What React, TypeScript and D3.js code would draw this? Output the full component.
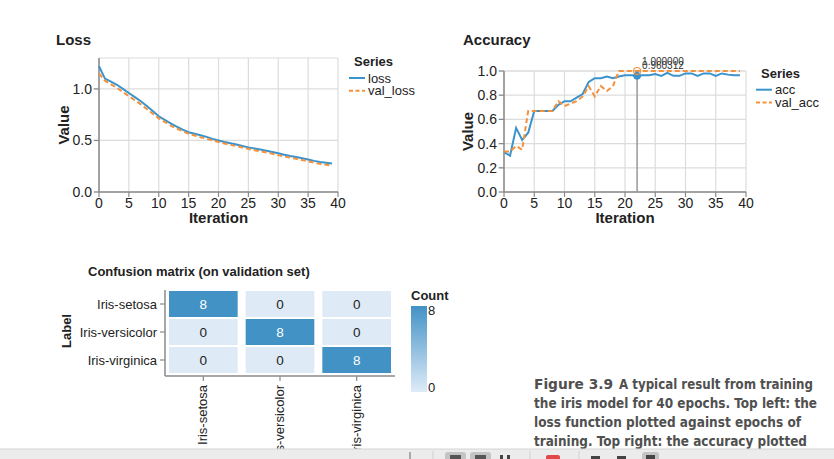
import React from 'react';
import * as d3 from 'd3';

// ---------- data ----------
const lossValues = [1.22, 1.1, 1.07, 1.04, 1.0, 0.96, 0.92, 0.88, 0.835, 0.785, 0.735, 0.7, 0.665, 0.635, 0.605, 0.58, 0.565, 0.55, 0.535, 0.515, 0.5, 0.485, 0.473, 0.46, 0.447, 0.433, 0.422, 0.412, 0.4, 0.388, 0.375, 0.362, 0.35, 0.34, 0.328, 0.315, 0.302, 0.292, 0.284, 0.276];
const valLossValues = [1.15, 1.08, 1.045, 1.01, 0.97, 0.93, 0.89, 0.85, 0.805, 0.76, 0.715, 0.68, 0.645, 0.615, 0.59, 0.565, 0.548, 0.532, 0.517, 0.5, 0.485, 0.47, 0.458, 0.445, 0.432, 0.418, 0.406, 0.395, 0.383, 0.372, 0.358, 0.345, 0.333, 0.322, 0.31, 0.297, 0.284, 0.273, 0.264, 0.255];
const accValues = [0.33, 0.3, 0.53, 0.43, 0.49, 0.67, 0.67, 0.67, 0.67, 0.72, 0.75, 0.75, 0.78, 0.81, 0.91, 0.94, 0.94, 0.955, 0.94, 0.955, 0.965, 0.965, 0.96, 0.965, 0.965, 0.975, 0.96, 0.985, 0.96, 0.96, 0.98, 0.98, 0.96, 0.98, 0.98, 0.96, 0.98, 0.97, 0.965, 0.965];
const valAccValues = [0.335, 0.335, 0.38, 0.35, 0.67, 0.67, 0.67, 0.67, 0.67, 0.75, 0.71, 0.73, 0.75, 0.79, 0.875, 0.79, 0.875, 0.835, 0.875, 1.0, 1.0, 1.0, 1.0, 1.0, 1.0, 1.0, 1.0, 1.0, 1.0, 1.0, 1.0, 1.0, 1.0, 1.0, 1.0, 1.0, 1.0, 1.0, 1.0, 1.0];
const xTicks = [0, 5, 10, 15, 20, 25, 30, 35, 40];
const lossYTicks = [0, 0.5, 1.0];
const accYTicks = [0, 0.2, 0.4, 0.6, 0.8, 1.0];
const lossSeries = ['loss', 'val_loss'];
const accSeries = ['acc', 'val_acc'];
const hoverIteration = 22;
const hoverLabels = ['1.000000', '0.960312'];
const classLabels = ['Iris-setosa', 'Iris-versicolor', 'Iris-virginica'];
const confusion = [
  [8, 0, 0],
  [0, 8, 0],
  [0, 0, 8],
];
const countTicks = [0, 8];
const captionLines = [
  'the iris model for 40 epochs. Top left: the',
  'loss function plotted against epochs of',
  'training. Top right: the accuracy plotted',
];

// ---------- style ----------
const FONT = "'Liberation Sans', Arial, Helvetica, sans-serif";
const BLUE = '#3b93cc';
const ORANGE = '#f5913a';
const GRID = '#dcdcdc';
const AXIS = '#8a8a8a';
const TEXT = '#222';

type LineChartProps = {
  title: string;
  left: number; right: number; top: number; bottom: number;
  yMax: number; yTicks: number[]; yFmt: (v: number) => string;
  series: number[][]; names: string[];
  legendX: number; legendY: number;
  titleX: number; titleY: number; valueX: number;
  children?: (x: d3.ScaleLinear<number, number>, y: d3.ScaleLinear<number, number>) => React.ReactNode;
};

function LineChart(p: LineChartProps) {
  const x = d3.scaleLinear().domain([0, 40]).range([p.left, p.right]);
  const y = d3.scaleLinear().domain([0, p.yMax]).range([p.bottom, p.top]);
  const line = d3.line<number>().x((_, i) => x(i)).y((d) => y(d));
  const colors = [BLUE, ORANGE];
  return (
    <g fontFamily={FONT}>
      <text x={p.titleX} y={p.titleY} fontSize={15} fontWeight="bold" fill={TEXT}>{p.title}</text>
      {/* grid */}
      {xTicks.map((t) => (
        <line key={'gx' + t} x1={x(t)} x2={x(t)} y1={p.top} y2={p.bottom} stroke={GRID} strokeWidth={1.2} />
      ))}
      {yTicks(p).map((t) => (
        <line key={'gy' + t} x1={p.left - 6} x2={p.right} y1={y(t)} y2={y(t)} stroke={GRID} strokeWidth={1.2} />
      ))}
      <line x1={p.left} x2={p.right} y1={p.top} y2={p.top} stroke={GRID} strokeWidth={1.2} />
      {/* axes */}
      <line x1={p.left} x2={p.left} y1={p.top} y2={p.bottom} stroke={AXIS} strokeWidth={1.5} />
      <line x1={p.left} x2={p.right} y1={p.bottom} y2={p.bottom} stroke={AXIS} strokeWidth={1.5} />
      {xTicks.map((t) => (
        <g key={'tx' + t}>
          <line x1={x(t)} x2={x(t)} y1={p.bottom} y2={p.bottom + 5} stroke={AXIS} strokeWidth={1.2} />
          <text x={x(t)} y={p.bottom + 16} fontSize={14} textAnchor="middle" fill={TEXT}>{t}</text>
        </g>
      ))}
      {p.yTicks.map((t) => (
        <g key={'ty' + t}>
          <line x1={p.left - 5} x2={p.left} y1={y(t)} y2={y(t)} stroke={AXIS} strokeWidth={1.2} />
          <text x={p.left - 7} y={y(t) + 5} fontSize={14} textAnchor="end" fill={TEXT}>{p.yFmt(t)}</text>
        </g>
      ))}
      <text x={(p.left + p.right) / 2} y={p.bottom + 31} fontSize={15} fontWeight="bold" textAnchor="middle" fill={TEXT}>Iteration</text>
      <text transform={`translate(${p.valueX},${(p.top + p.bottom) / 2}) rotate(-90)`} fontSize={15} fontWeight="bold" textAnchor="middle" fill={TEXT}>Value</text>
      {/* lines */}
      {p.series.map((s, i) => (
        <path key={'s' + i} d={line(s) || ''} fill="none" stroke={colors[i]} strokeWidth={2}
          strokeDasharray={i === 1 ? '5,3' : undefined} />
      ))}
      {p.children && p.children(x, y)}
      {/* legend */}
      <text x={p.legendX + 5} y={p.legendY} fontSize={13} fontWeight="bold" fill={TEXT}>Series</text>
      {p.names.map((n, i) => (
        <g key={'lg' + n}>
          <line x1={p.legendX} x2={p.legendX + 16} y1={p.legendY + 12 + i * 12.7} y2={p.legendY + 12 + i * 12.7}
            stroke={colors[i]} strokeWidth={2} strokeDasharray={i === 1 ? '4,2.5' : undefined} />
          <text x={p.legendX + 19} y={p.legendY + 16.5 + i * 12.7} fontSize={13} fill={TEXT}>{n}</text>
        </g>
      ))}
    </g>
  );
}

function yTicks(p: LineChartProps) {
  return p.yTicks;
}

function Confusion() {
  const x = d3.scaleBand<string>().domain(classLabels).range([165, 395]);
  const y = d3.scaleBand<string>().domain(classLabels).range([290, 374]);
  const color = d3.scaleLinear<string>().domain([0, 8]).range(['#deebf7', '#4292c6']);
  const legendY = d3.scaleLinear().domain([0, 8]).range([392, 306]);
  const bw = x.bandwidth();
  const bh = y.bandwidth();
  return (
    <g fontFamily={FONT}>
      <text x={88} y={276} fontSize={13} fontWeight="bold" fill={TEXT}>Confusion matrix (on validation set)</text>
      {confusion.map((row, ri) =>
        row.map((v, ci) => {
          const cx = (x(classLabels[ci]) as number);
          const cy = (y(classLabels[ri]) as number);
          return (
            <g key={ri + '-' + ci}>
              <rect x={cx + 4} y={cy + 1} width={bw - 8} height={bh - 2} fill={color(v)} />
              <text x={cx + bw / 2} y={cy + bh / 2 + 5} fontSize={13.5} textAnchor="middle" fill={v > 4 ? '#fff' : TEXT}>{v}</text>
            </g>
          );
        })
      )}
      <line x1={165} x2={165} y1={290} y2={376} stroke={AXIS} strokeWidth={1.5} />
      <line x1={165} x2={395} y1={376} y2={376} stroke={AXIS} strokeWidth={1.5} />
      {classLabels.map((c) => {
        const cy = (y(c) as number) + bh / 2;
        const cx = (x(c) as number) + bw / 2;
        return (
          <g key={'ax' + c}>
            <line x1={160} x2={165} y1={cy} y2={cy} stroke={AXIS} strokeWidth={1.2} />
            <text x={157} y={cy + 4.5} fontSize={13} textAnchor="end" fill={TEXT}>{c}</text>
            <line x1={cx} x2={cx} y1={376} y2={381} stroke={AXIS} strokeWidth={1.2} />
            <text transform={`translate(${cx + 4},385) rotate(-90)`} fontSize={13} textAnchor="end" fill={TEXT}>{c}</text>
          </g>
        );
      })}
      <text transform="translate(70.5,331) rotate(-90)" fontSize={13} fontWeight="bold" textAnchor="middle" fill={TEXT}>Label</text>
      {/* legend */}
      <defs>
        <linearGradient id="countGrad" x1="0" x2="0" y1="1" y2="0">
          <stop offset="0%" stopColor={color(0)} />
          <stop offset="100%" stopColor={color(8)} />
        </linearGradient>
      </defs>
      <text x={411} y={300} fontSize={13} fontWeight="bold" fill={TEXT}>Count</text>
      <rect x={411} y={legendY(8)} width={16} height={legendY(0) - legendY(8)} fill="url(#countGrad)" />
      {countTicks.map((t) => (
        <text key={'ct' + t} x={428} y={t === 8 ? legendY(t) + 9 : legendY(t) - 0.5} fontSize={13} fill={TEXT}>{t}</text>
      ))}
    </g>
  );
}

function Caption() {
  const fam = "'Liberation Sans Narrow', 'DejaVu Sans Condensed', 'Liberation Sans', Arial, sans-serif";
  const widths = [283, 267, 273];
  return (
    <g fontFamily={fam} fontWeight="bold" fontSize={14} fill="#505050">
      <text x={534} y={389} textLength={79} lengthAdjust="spacingAndGlyphs">Figure 3.9</text>
      <text x={619} y={389} textLength={194} lengthAdjust="spacingAndGlyphs">A typical result from training</text>
      {captionLines.map((l, i) => (
        <text key={i} x={534} y={408 + i * 19} textLength={widths[i]} lengthAdjust="spacingAndGlyphs">{l}</text>
      ))}
    </g>
  );
}

function Toolbar() {
  return (
    <g>
      <rect x={0} y={449} width={834} height={10} fill="#ececec" />
      <line x1={0} x2={834} y1={449} y2={449} stroke="#d4d4d4" strokeWidth={1} />
      <line x1={410} x2={410} y1={452} y2={459} stroke="#666" strokeWidth={1} />
      <line x1={433} x2={433} y1={451} y2={459} stroke="#d0d0d0" strokeWidth={1} />
      <rect x={445} y={452} width={21} height={10} rx={3} fill="#c4c4c4" />
      <rect x={450} y={455} width={11} height={6} fill="#555" />
      <rect x={470} y={452} width={21} height={10} rx={3} fill="#c4c4c4" />
      <rect x={475} y={455} width={11} height={6} fill="#555" />
      <rect x={500} y={455} width={3} height={4} fill="#444" />
      <rect x={507} y={455} width={3} height={4} fill="#444" />
      <line x1={530} x2={530} y1={451} y2={459} stroke="#d0d0d0" strokeWidth={1} />
      <rect x={546} y={455} width={14} height={6} rx={2} fill="#e04848" />
      <line x1={579} x2={579} y1={451} y2={459} stroke="#d0d0d0" strokeWidth={1} />
      <rect x={591} y={456} width={9} height={4} fill="#444" />
      <rect x={617} y={456} width={9} height={4} fill="#444" />
      <rect x={642} y={452} width={17} height={10} rx={3} fill="#c4c4c4" />
      <rect x={646} y={455} width={9} height={5} fill="#444" />
    </g>
  );
}

export default function App() {
  return (
    <svg width={834} height={459} viewBox="0 0 834 459" style={{ position: 'absolute', left: 0, top: 0, background: '#fff' }}>
      <rect x={0} y={0} width={834} height={459} fill="#fff" />
      <LineChart
        title="Loss" titleX={56} titleY={45}
        left={99} right={338} top={58} bottom={192}
        yMax={1.3} yTicks={lossYTicks} yFmt={(v) => d3.format('.1f')(v)}
        series={[lossValues, valLossValues]} names={lossSeries}
        legendX={349} legendY={66} valueX={69}
      />
      <LineChart
        title="Accuracy" titleX={463} titleY={45}
        left={504} right={746} top={71} bottom={192}
        yMax={1.0} yTicks={accYTicks} yFmt={(v) => d3.format('.1f')(v)}
        series={[accValues, valAccValues]} names={accSeries}
        legendX={756} legendY={77.7} valueX={473}
      >
        {(x, y) => (
          <g>
            <line x1={x(hoverIteration)} x2={x(hoverIteration)} y1={y(1.0)} y2={y(0)} stroke="#999" strokeWidth={1.5} />
            <circle cx={x(hoverIteration)} cy={y(accValues[hoverIteration])} r={3.5} fill={BLUE} stroke={BLUE} />
            <circle cx={x(hoverIteration)} cy={y(valAccValues[hoverIteration])} r={3.5} fill="none" stroke={ORANGE} strokeWidth={1.2} />
            <text x={x(hoverIteration) + 5} y={65} fontSize={10} fill="#333" fontFamily={FONT}>{hoverLabels[0]}</text>
            <text x={x(hoverIteration) + 5} y={69} fontSize={10} fill="#333" fontFamily={FONT}>{hoverLabels[1]}</text>
          </g>
        )}
      </LineChart>
      <Confusion />
      <Caption />
      <Toolbar />
    </svg>
  );
}
